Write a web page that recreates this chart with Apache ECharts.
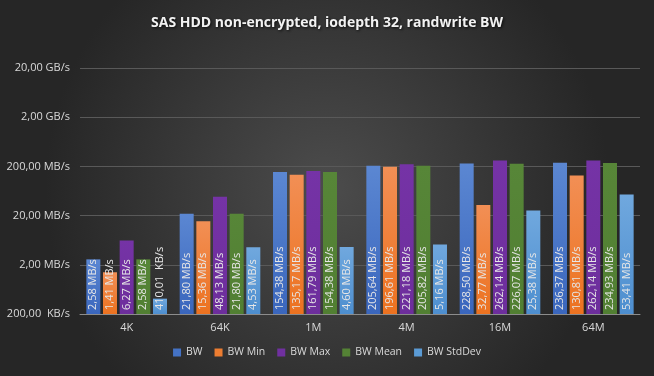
<!DOCTYPE html>
<html>
<head>
<meta charset="utf-8">
<script src="https://cdn.jsdelivr.net/npm/echarts@6/dist/echarts.min.js"></script>
<style>
  html, body { margin: 0; padding: 0; }
  #chart { width: 654px; height: 376px; }
</style>
</head>
<body>
<div id="chart"></div>
<script>
// values in MB/s
const categories = ['4K', '64K', '1M', '4M', '16M', '64M'];
const bw = [2.58, 21.80, 154.38, 205.64, 228.50, 236.37];
const bwMin = [1.41, 15.36, 135.17, 196.61, 32.77, 130.81];
const bwMax = [6.27, 48.13, 161.79, 221.18, 262.14, 262.14];
const bwMean = [2.58, 21.80, 154.38, 205.82, 226.07, 234.93];
const bwStdDev = [0.41001, 4.53, 4.60, 5.16, 25.38, 53.41];
const seriesNames = ['BW', 'BW Min', 'BW Max', 'BW Mean', 'BW StdDev'];

// log axis floor: 200 KB/s, decades up to 20 GB/s
const axisBase = 0.2;
const decades = 5;

const fontFamily = '"Open Sans", "Noto Sans", sans-serif';

function fmt(v) {
  // excel-like number format, comma decimals
  if (v >= 1000) return (v / 1000).toFixed(2).replace('.', ',') + ' GB/s';
  if (v >= 1) return v.toFixed(2).replace('.', ',') + ' MB/s';
  return (v * 1000).toFixed(2).replace('.', ',') + '  KB/s';
}

// position on the log scale (decades above 200 KB/s)
function toLog(v) {
  return Math.log10(v / axisBase);
}

function grad(top, bottom) {
  return new echarts.graphic.LinearGradient(0, 0, 0, 1, [
    { offset: 0, color: top },
    { offset: 1, color: bottom }
  ]);
}

const colors = [
  grad('#5b87d2', '#3a66bd'),
  grad('#f28f55', '#ec7220'),
  grad('#7533a6', '#6d2e9c'),
  grad('#578638', '#517f32'),
  grad('#70a8de', '#4d8ecf')
];
const legendColors = ['#4472c4', '#ed7d31', '#7030a0', '#548235', '#5b9bd5'];

const chart = echarts.init(document.getElementById('chart'));

const dataSets = [bw, bwMin, bwMax, bwMean, bwStdDev];

const option = {
  backgroundColor: new echarts.graphic.RadialGradient(0.5, 0.5, 0.75, [
    { offset: 0, color: '#4c4c4c' },
    { offset: 1, color: '#262626' }
  ]),
  textStyle: { fontFamily: fontFamily },
  title: {
    text: 'SAS HDD non-encrypted, iodepth 32, randwrite BW',
    left: 'center',
    top: 11,
    textStyle: {
      color: '#f2f2f2',
      fontSize: 14,
      fontWeight: 'bold',
      fontFamily: fontFamily,
      textShadowColor: 'rgba(0,0,0,0.8)',
      textShadowBlur: 3,
      textShadowOffsetX: 1,
      textShadowOffsetY: 1
    }
  },
  legend: {
    bottom: 13,
    left: 'center',
    itemWidth: 8,
    itemHeight: 8,
    itemGap: 12,
    icon: 'rect',
    textStyle: { color: '#d9d9d9', fontSize: 10.5 },
    data: seriesNames.map((n, i) => ({ name: n, itemStyle: { color: legendColors[i] } }))
  },
  grid: {
    left: 80,
    right: 14,
    top: 68,
    bottom: 62
  },
  xAxis: {
    type: 'category',
    data: categories,
    axisLine: { show: true, lineStyle: { color: '#8c8c8c', width: 1 } },
    axisTick: { show: false },
    axisLabel: { color: '#d9d9d9', fontSize: 11, margin: 8 }
  },
  yAxis: {
    type: 'value',
    min: 0,
    max: decades,
    interval: 1,
    axisLine: { show: false },
    axisTick: { show: false },
    splitLine: { lineStyle: { color: '#595959', width: 1 } },
    axisLabel: {
      color: '#d9d9d9',
      fontSize: 11,
      margin: 10,
      formatter: function (t) { return fmt(axisBase * Math.pow(10, t)); }
    }
  },
  series: dataSets.map((d, i) => ({
    name: seriesNames[i],
    type: 'bar',
    data: d.map(v => ({ value: toLog(v), raw: v })),
    barWidth: 14,
    barGap: '19%',
    itemStyle: { color: colors[i] },
    label: {
      show: true,
      position: 'insideBottom',
      rotate: 90,
      align: 'left',
      verticalAlign: 'middle',
      distance: 4,
      color: '#e6e6e6',
      fontSize: 11,
      fontFamily: fontFamily,
      formatter: function (p) { return fmt(p.data.raw); }
    }
  }))
};

chart.setOption(option);
</script>
</body>
</html>
